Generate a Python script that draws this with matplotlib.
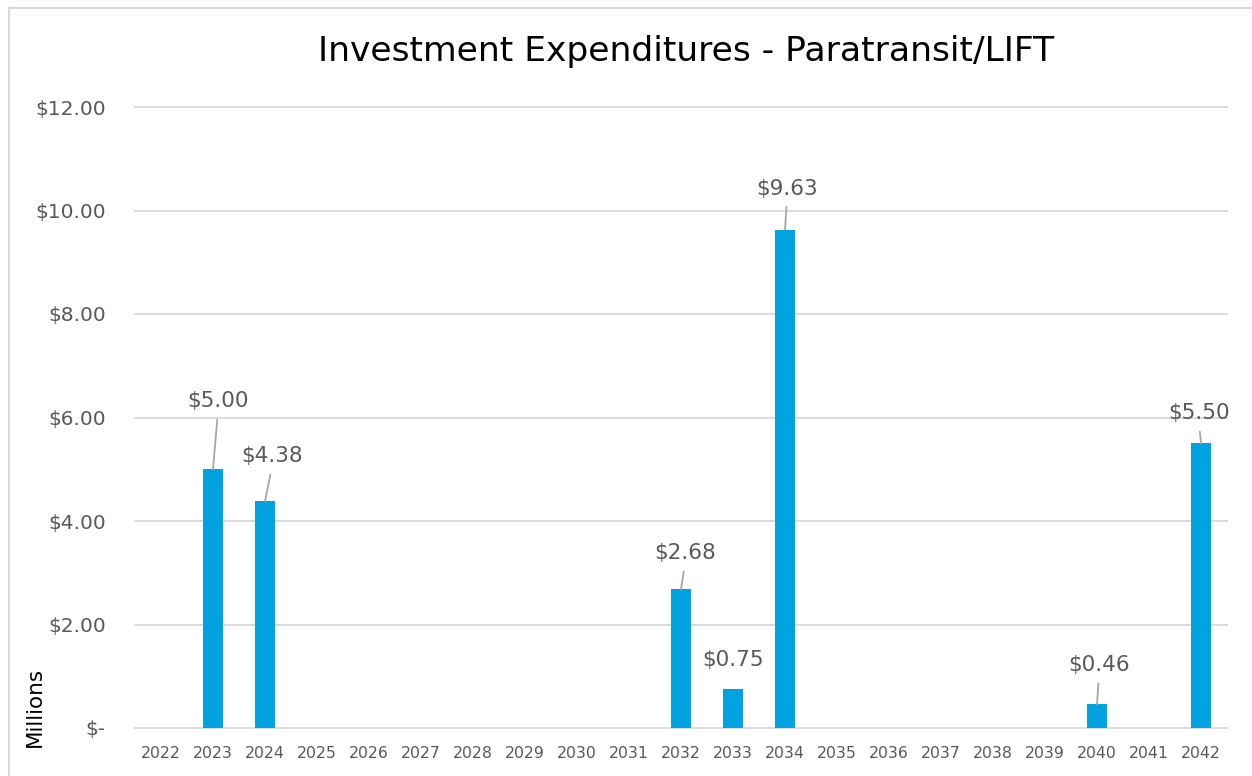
import matplotlib
matplotlib.use("Agg")
import matplotlib.pyplot as plt
from matplotlib.lines import Line2D

# Data (millions of dollars)
years = [str(y) for y in range(2022, 2043)]
values = [0, 5.00, 4.38, 0, 0, 0, 0, 0, 0, 0,
          2.68, 0.75, 9.63, 0, 0, 0, 0, 0, 0.46, 0, 5.50]
y_ticks = [0, 2, 4, 6, 8, 10, 12]
y_labels = ["$-", "$2.00", "$4.00", "$6.00", "$8.00", "$10.00", "$12.00"]

# label offsets in pixels (dx, dy) from bar top, and whether a leader line is drawn
label_offsets = {1: (5, 68, True), 2: (7, 45, True), 10: (4, 36, True),
                 11: (0, 29, False), 12: (2, 41, True), 18: (2, 39, True),
                 20: (-2, 30, True)}

W, H = 1252, 776
bar_color = "#00A3E0"
grid_color = "#D9D9D9"
text_gray = "#595959"

fig = plt.figure(figsize=(W / 100, H / 100), dpi=100)
ax = fig.add_axes([135 / W, (H - 728) / H, 1092 / W, (728 - 107) / H])

x = list(range(len(years)))
ax.bar(x, values, width=0.4, color=bar_color, zorder=3)

ax.set_xlim(-0.5, len(years) - 0.5)
ax.set_ylim(0, 12)
ax.set_yticks(y_ticks)
ax.set_yticklabels(y_labels)
ax.set_xticks(x)
ax.set_xticklabels(years)
ax.yaxis.grid(True, color=grid_color, linewidth=1.3, zorder=0)
ax.set_axisbelow(True)
for gl in ax.get_ygridlines():
    gl.set_clip_on(False)
for s in ax.spines.values():
    s.set_visible(False)
ax.tick_params(axis="y", length=0, pad=21, labelsize=14.5, labelcolor=text_gray)
ax.tick_params(axis="x", length=0, pad=13, labelsize=11.3, labelcolor=text_gray)

# data labels with leader lines
for i, (dx, dy, leader) in label_offsets.items():
    v = values[i]
    arrow = None
    if leader:
        arrow = dict(arrowstyle="-", color="#A6A6A6", lw=1.3,
                     relpos=(0.5, 0), shrinkA=4, shrinkB=0)
    ax.annotate(f"${v:.2f}", xy=(i, v), xytext=(dx * 0.72, dy * 0.72),
                textcoords="offset points", ha="center", va="center",
                fontsize=15.5, color=text_gray, zorder=5, arrowprops=arrow)

fig.text(686 / W, 1 - 52 / H, "Investment Expenditures - Paratransit/LIFT",
         ha="center", va="center", fontsize=24.8, color="#000000")
fig.text(35 / W, 1 - 747 / H, "Millions", rotation=90, ha="center", va="bottom",
         fontsize=15.5, color="#000000")

# outer chart border (top and left visible)
fig.add_artist(Line2D([9 / W, 1], [1 - 8 / H, 1 - 8 / H], transform=fig.transFigure,
                      color=grid_color, lw=1.5))
fig.add_artist(Line2D([9 / W, 9 / W], [0, 1 - 8 / H], transform=fig.transFigure,
                      color=grid_color, lw=1.5))

fig.savefig("out.png", dpi=100, facecolor="white")
